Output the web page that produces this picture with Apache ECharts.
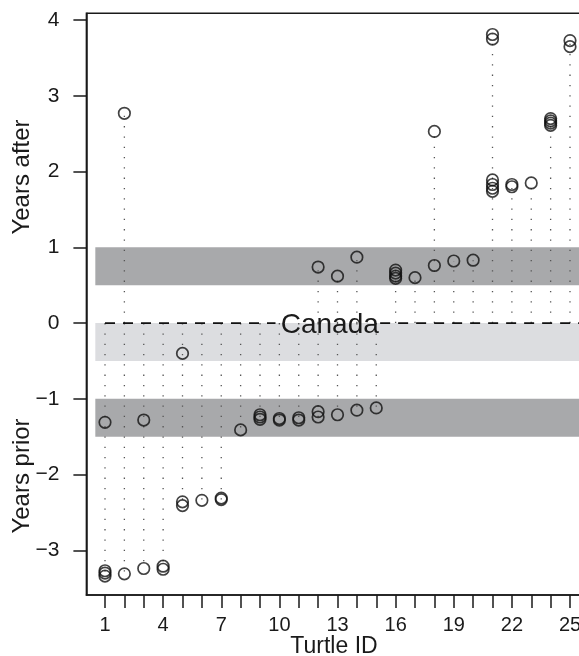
<!DOCTYPE html>
<html><head><meta charset="utf-8">
<script src="https://cdn.jsdelivr.net/npm/echarts@6/dist/echarts.min.js"></script>
<style>html,body{margin:0;padding:0;background:#fff}#c{width:579px;height:656px}</style>
</head><body><div id="c"></div>
<script>
// ---- data ----
const pointTurtle = [
  1,1,1,1, 2,2, 3,3, 4,4, 5,5,5, 6, 7,7, 8, 9,9,9, 10,10, 11,11, 12,12,12, 13,13, 14,14, 15,
  16,16,16,16, 17, 18,18, 19, 20, 21,21,21,21,21,21, 22,22, 23, 24,24,24,24, 25,25
];
const pointYears = [
  -1.31,-3.27,-3.30,-3.34, 2.77,-3.31, -1.28,-3.24, -3.21,-3.25, -0.40,-2.36,-2.41, -2.34, -2.31,-2.33,
  -1.41, -1.21,-1.24,-1.27, -1.26,-1.28, -1.25,-1.28, 0.74,-1.17,-1.24, 0.62,-1.21, 0.87,-1.15, -1.12,
  0.70,0.66,0.62,0.59, 0.60, 2.53,0.76, 0.82, 0.83, 3.81,3.75,1.89,1.83,1.78,1.74, 1.83,1.80, 1.85,
  2.70,2.67,2.64,2.61, 3.73,3.65
];
const xTickValues = [1,2,3,4,5,6,7,8,9,10,11,12,13,14,15,16,17,18,19,20,21,22,23,24,25];
const xLabelValues = [1,4,7,10,13,16,19,22,25];
const yTickValues = [-3,-2,-1,0,1,2,3,4];
const darkBands = [[1.0, 0.5], [-1.0, -1.5]];
const lightBands = [[0, -0.5]];
const bandX = [0.5, 25.5];
const refLabel = 'Canada';
const refLabelX = 12.6;
const refLineSegments = [[1, 9.8], [15.2, 25.96]];
const xRange = [0.04, 25.96];
const yRange = [-3.59, 4.09];

// ---- derived ----
const points = pointTurtle.map((t, i) => [t, pointYears[i]]);
const stems = [];
const ids = Array.from(new Set(pointTurtle));
ids.forEach(id => {
  const ys = points.filter(p => p[0] === id).map(p => p[1]);
  const mx = Math.max(...ys), mn = Math.min(...ys);
  if (mx > 0) stems.push([id, mx]);
  if (mn < 0) stems.push([id, mn]);
});
const bands = [];
darkBands.forEach(b => bands.push([bandX[0], bandX[1], b[0], b[1], 0]));
lightBands.forEach(b => bands.push([bandX[0], bandX[1], b[0], b[1], 1]));
const bandColors = ['#a8a9ab', '#dcdde0'];

const FONT = '"Liberation Sans", Arial, Helvetica, sans-serif';
const INK = '#1a1a1a';

const chart = echarts.init(document.getElementById('c'), null, {renderer: 'canvas'});
chart.setOption({
  animation: false,
  backgroundColor: '#fff',
  grid: {left: 86.4, top: 13.3, width: 502.2, height: 581.7, containLabel: false,
         outerBoundsMode: 'none', show: true, borderColor: INK, borderWidth: 1.5, backgroundColor: '#fff'},
  xAxis: {
    type: 'value', min: xRange[0], max: xRange[1],
    splitLine: {show: false},
    axisLine: {show: true, onZero: false, lineStyle: {color: INK, width: 1.5}},
    axisTick: {show: true, length: 13, lineStyle: {color: INK, width: 1.5}, customValues: xTickValues},
    axisLabel: {show: true, customValues: xLabelValues, margin: 20, color: INK, fontSize: 20, fontFamily: FONT}
  },
  yAxis: {
    type: 'value', min: yRange[0], max: yRange[1],
    splitLine: {show: false},
    axisLine: {show: true, onZero: false, lineStyle: {color: INK, width: 1.5}},
    axisTick: {show: true, length: 13, lineStyle: {color: INK, width: 1.5}, customValues: yTickValues},
    axisLabel: {show: true, customValues: yTickValues, margin: 27, color: INK, fontSize: 21, fontFamily: FONT,
      formatter: v => String(v).replace('-', '\u2212')}
  },
  graphic: [
    {type: 'text', x: 22, y: 177, rotation: Math.PI / 2,
     style: {text: 'Years after', font: '24px ' + FONT, fill: INK, align: 'center', verticalAlign: 'middle'}},
    {type: 'text', x: 22, y: 476, rotation: Math.PI / 2,
     style: {text: 'Years prior', font: '24px ' + FONT, fill: INK, align: 'center', verticalAlign: 'middle'}},
    {type: 'text', x: 334, y: 647,
     style: {text: 'Turtle ID', font: '23px ' + FONT, fill: INK, align: 'center', verticalAlign: 'middle'}}
  ],
  series: [
    {
      type: 'custom', z: 1, silent: true, data: bands,
      renderItem: (params, api) => {
        const p0 = api.coord([api.value(0), api.value(2)]);
        const p1 = api.coord([api.value(1), api.value(3)]);
        return {type: 'rect', shape: {x: p0[0], y: p0[1], width: p1[0] - p0[0], height: p1[1] - p0[1]},
                style: {fill: bandColors[api.value(4)]}};
      }
    },
    {
      type: 'custom', z: 2, silent: true, data: stems,
      renderItem: (params, api) => {
        const a = api.coord([api.value(0), 0]);
        const b = api.coord([api.value(0), api.value(1)]);
        return {type: 'line', shape: {x1: a[0], y1: a[1], x2: b[0], y2: b[1]},
                style: {stroke: '#555', lineWidth: 1.3, lineDash: [1.3, 9]}};
      }
    },
    {
      type: 'custom', z: 3, silent: true, data: refLineSegments,
      renderItem: (params, api) => {
        const a = api.coord([api.value(0), 0]);
        const b = api.coord([api.value(1), 0]);
        return {type: 'line', shape: {x1: a[0], y1: a[1], x2: b[0], y2: b[1]},
                style: {stroke: '#111', lineWidth: 1.7, lineDash: [10, 8]}};
      }
    },
    {
      type: 'custom', z: 4, silent: true, data: [[refLabelX, 0]],
      renderItem: (params, api) => {
        const a = api.coord([api.value(0), api.value(1)]);
        return {type: 'text', x: a[0], y: a[1] + 2,
                style: {text: refLabel, font: '28px ' + FONT, fill: INK, align: 'center', verticalAlign: 'middle'}};
      }
    },
    {
      type: 'scatter', z: 5, data: points, symbol: 'circle', symbolSize: 11.5,
      itemStyle: {color: 'rgba(0,0,0,0)', borderColor: '#111', borderWidth: 1.7}
    }
  ]
});
</script>
</body></html>
